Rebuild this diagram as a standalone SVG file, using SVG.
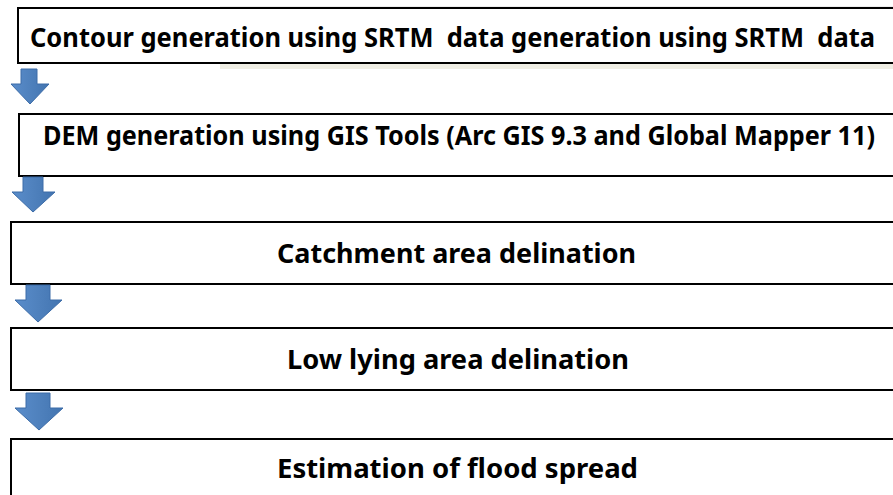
<svg xmlns="http://www.w3.org/2000/svg" width="893" height="495" viewBox="0 0 893 495">
  <defs>
    <linearGradient id="ag" x1="0" y1="0" x2="1" y2="0">
      <stop offset="0" stop-color="#5a8dcb"/>
      <stop offset="0.5" stop-color="#4f81bd"/>
      <stop offset="1" stop-color="#4274b0"/>
    </linearGradient>
  </defs>
  <style>
    .box { fill: #ffffff; stroke: #000000; stroke-width: 2; }
    .lbl { font-family: "Noto Sans", "Open Sans", "Liberation Sans", sans-serif; font-weight: 700; font-size: 26px; fill: #000000; white-space: pre; }
    .arr { fill: url(#ag); stroke: #3c6ca8; stroke-width: 1; }
  </style>
  <rect x="0" y="0" width="893" height="495" fill="#ffffff"/>
  <rect x="220" y="64" width="673" height="5" fill="#efeee4"/>
  <line x1="220" y1="7" x2="893" y2="7" stroke="#dddddd" stroke-width="1"/>

  <g id="node1">
    <rect class="box" x="18" y="8" width="890" height="55"/>
    <text class="lbl" x="30" y="47" textLength="845" lengthAdjust="spacingAndGlyphs" xml:space="preserve">Contour generation using SRTM  data generation using SRTM  data</text>
  </g>
  <g id="node2">
    <rect class="box" x="19" y="114" width="890" height="62"/>
    <text class="lbl" x="43" y="145" textLength="832" lengthAdjust="spacingAndGlyphs">DEM generation using GIS Tools (Arc GIS 9.3 and Global Mapper 11)</text>
  </g>
  <g id="node3">
    <rect class="box" x="11" y="222" width="900" height="62"/>
    <text class="lbl" x="277" y="263" textLength="359" lengthAdjust="spacingAndGlyphs">Catchment area delination</text>
  </g>
  <g id="node4">
    <rect class="box" x="11" y="328" width="900" height="62"/>
    <text class="lbl" x="287" y="369" textLength="342" lengthAdjust="spacingAndGlyphs">Low lying area delination</text>
  </g>
  <g id="node5">
    <rect class="box" x="11" y="439" width="900" height="70"/>
    <text class="lbl" x="277" y="478" textLength="361" lengthAdjust="spacingAndGlyphs">Estimation of flood spread</text>
  </g>

  <g id="connectors">
    <polygon class="arr" points="21,69 37,69 37,84 49,84 30,104 11,84 21,84"/>
    <polygon class="arr" points="23,177 43,177 43,192 55,192 33,212 12,192 23,192"/>
    <polygon class="arr" points="26,285 50,285 50,300 62,300 38,322 15,300 26,300"/>
    <polygon class="arr" points="26,393 50,393 50,408 63,408 39,430 15,408 26,408"/>
  </g>
</svg>
